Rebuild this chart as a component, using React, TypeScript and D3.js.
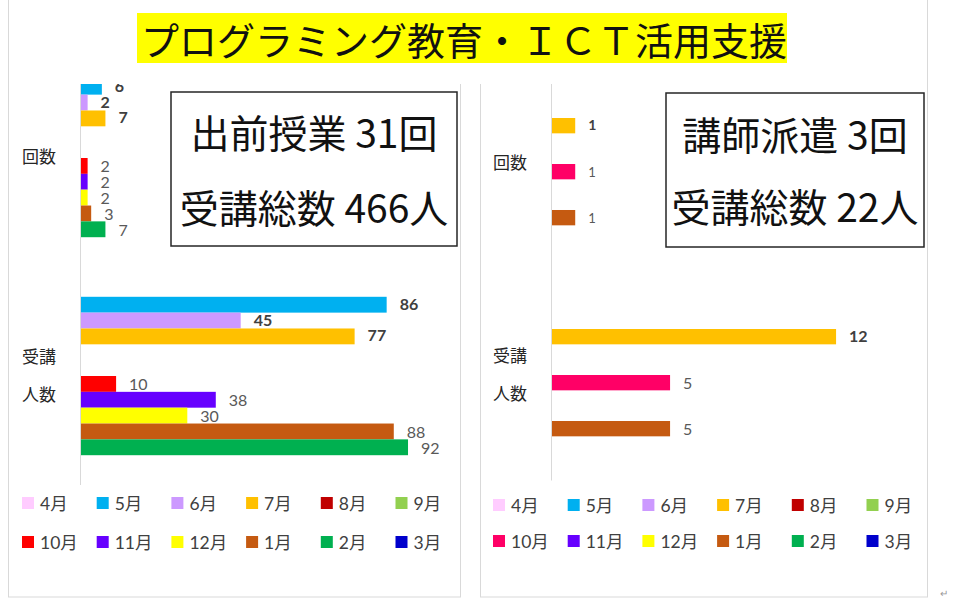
import { scaleBand, scaleLinear } from "d3"

const months = ["4月", "5月", "6月", "7月", "8月", "9月", "10月", "11月", "12月", "1月", "2月", "3月"]
const categories = ["回数", "受講人数"]

const leftColors = ["#FFCCFF", "#00B0F0", "#CC99FF", "#FFC000", "#C00000", "#92D050", "#FF0000", "#6600FF", "#FFFF00", "#C55A11", "#00B050", "#0000CC"]
const rightColors = ["#FFCCFF", "#00B0F0", "#CC99FF", "#FFC000", "#C00000", "#92D050", "#FF0066", "#6600FF", "#FFFF00", "#C55A11", "#00B050", "#0000CC"]

// 出前授業
const leftCount = [0, 6, 2, 7, 0, 0, 2, 2, 2, 3, 7, 0]
const leftPeople = [0, 86, 45, 77, 0, 0, 10, 38, 30, 88, 92, 0]
const leftBold = ["5月", "6月", "7月"]

// 講師派遣
const rightCount = [0, 0, 0, 1, 0, 0, 1, 0, 0, 1, 0, 0]
const rightPeople = [0, 0, 0, 12, 0, 0, 5, 0, 0, 5, 0, 0]
const rightBold = ["7月"]

const title = "プログラミング教育・ＩＣＴ活用支援"
const leftBox = ["出前授業 31回", "受講総数 466人"]
const rightBox = ["講師派遣 3回", "受講総数 22人"]

const JP = "'Noto Sans CJK JP', sans-serif"
const NUM = "Lato, 'Noto Sans CJK JP', sans-serif"

interface PanelProps {
  axisX: number
  xMax: number
  xRight: number
  yRange: [number, number]
  count: number[]
  people: number[]
  colors: string[]
  bold: string[]
  labelX: number
  countFont: number
  peopleFont: number
}

function BarPanel(p: PanelProps) {
  const x = scaleLinear().domain([0, p.xMax]).range([p.axisX, p.xRight])
  const y0 = scaleBand().domain(categories).range(p.yRange).paddingInner(0.128).paddingOuter(0.064)
  const y1 = scaleBand().domain(months).range([0, y0.bandwidth()])
  const series = [p.count, p.people]

  return (
    <g>
      {categories.map((c, ci) => (
        <g key={c} transform={`translate(0,${y0(c)})`}>
          {months.map((m, i) => {
            const v = series[ci][i]
            if (!v) return null
            const yy = (y1(m) ?? 0) + y1.bandwidth() / 2
            const isBold = p.bold.includes(m)
            return (
              <g key={m}>
                <rect x={x(0)} y={y1(m)} width={x(v) - x(0)} height={y1.bandwidth()} fill={p.colors[i]} />
                <text
                  x={x(v) + 13}
                  y={isBold ? yy - 1.5 : yy}
                  dominantBaseline="central"
                  fontFamily={NUM}
                  fontSize={isBold ? (ci === 0 && p.countFont < 15 ? 14 : 16) : ci === 0 ? p.countFont : p.peopleFont}
                  fontWeight={isBold ? 700 : 400}
                  fill={isBold ? "#404040" : "#595959"}
                >
                  {v}
                </text>
              </g>
            )
          })}
        </g>
      ))}
      <line x1={p.axisX} x2={p.axisX} y1={84} y2={p.yRange[1]} stroke="#D9D9D9" />
      {/* 項目ラベル */}
      <text x={p.labelX} y={(y0("回数") ?? 0) + y0.bandwidth() / 2 - 3} dominantBaseline="central" fontFamily={JP} fontSize={17} fill="#262626">
        回数
      </text>
      <text x={p.labelX} y={(y0("受講人数") ?? 0) + y0.bandwidth() / 2 - 21} dominantBaseline="central" fontFamily={JP} fontSize={17} fill="#262626">
        受講
      </text>
      <text x={p.labelX} y={(y0("受講人数") ?? 0) + y0.bandwidth() / 2 + 17} dominantBaseline="central" fontFamily={JP} fontSize={17} fill="#262626">
        人数
      </text>
    </g>
  )
}

function Legend({ x0, rows, colors }: { x0: number; rows: [number, number]; colors: string[] }) {
  const col = scaleBand().domain(["0", "1", "2", "3", "4", "5"]).range([x0, x0 + 6 * 74.7])
  return (
    <g>
      {months.map((m, i) => {
        const cx = col(String(i % 6)) ?? 0
        const cy = rows[Math.floor(i / 6)]
        return (
          <g key={m}>
            <rect x={cx} y={cy - 6} width={12} height={12} fill={colors[i]} />
            <text x={cx + 18} y={cy} dominantBaseline="central" fontFamily={NUM} fontSize={17.5} fill="#404040">
              {m}
            </text>
          </g>
        )
      })}
    </g>
  )
}

function InfoBox({ x, y, w, h, lines, ys }: { x: number; y: number; w: number; h: number; lines: string[]; ys: number[] }) {
  return (
    <g>
      <rect x={x} y={y} width={w} height={h} fill="#fff" stroke="#262626" strokeWidth={1.5} />
      {lines.map((t, i) => (
        <text key={i} x={x + w / 2} y={ys[i]} textAnchor="middle" dominantBaseline="central" fontFamily={JP} fontSize={39} fill="#111">
          {t}
        </text>
      ))}
    </g>
  )
}

export default function App() {
  return (
    <svg width={955} height={600} style={{ position: "absolute", left: 0, top: 0, background: "#fff" }}>
      {/* パネル枠 */}
      <rect x={8.5} y={-5} width={452} height={602} fill="#fff" stroke="#D9D9D9" />
      <rect x={480.5} y={-5} width={447} height={602} fill="#fff" stroke="#D9D9D9" />

      <BarPanel
        axisX={80.5}
        xMax={100}
        xRight={436.5}
        yRange={[49, 485]}
        count={leftCount}
        people={leftPeople}
        colors={leftColors}
        bold={leftBold}
        labelX={22}
        countFont={16}
        peopleFont={16}
      />
      <BarPanel
        axisX={551.5}
        xMax={14}
        xRight={883.5}
        yRange={[58.5, 480.5]}
        count={rightCount}
        people={rightPeople}
        colors={rightColors}
        bold={rightBold}
        labelX={493}
        countFont={13}
        peopleFont={16}
      />

      <Legend x0={22} rows={[503, 542]} colors={leftColors} />
      <Legend x0={493} rows={[505, 541]} colors={rightColors} />

      {/* タイトル部（白地で上部を覆う） */}
      <rect x={12} y={-1} width={912} height={85} fill="#fff" />
      <rect x={137} y={13} width={650} height={50} fill="#FFFF00" />
      <text x={141} y={38.5} dominantBaseline="central" fontFamily={JP} fontSize={38} fill="#111">
        {title}
      </text>

      <InfoBox x={171} y={92} w={286} h={154} lines={leftBox} ys={[131, 206]} />
      <InfoBox x={666} y={93} w={258} h={154} lines={rightBox} ys={[133, 205]} />

      <text x={940} y={597} fontFamily={JP} fontSize={10} fill="#999">↵</text>
    </svg>
  )
}
